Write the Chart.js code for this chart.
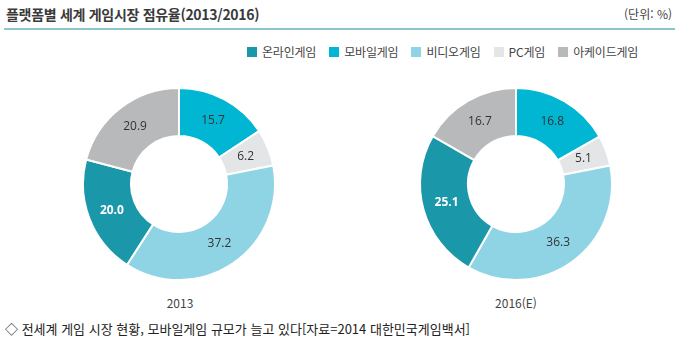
<!DOCTYPE html>
<html lang="ko">
<head>
<meta charset="utf-8">
<script src="https://cdn.jsdelivr.net/npm/chart.js@4/dist/chart.umd.min.js"></script>
<style>
  html, body { margin: 0; padding: 0; background: #fff; }
  body { width: 680px; height: 343px; position: relative; overflow: hidden;
         font-family: "Noto Sans CJK KR", "Noto Sans", sans-serif; color: #333; }
  #title { position: absolute; left: 6px; top: 4px; font-size: 14px; font-weight: bold; color: #3a3a3a; letter-spacing: -0.3px; }
  #unit { position: absolute; right: 8px; top: 5px; font-size: 12px; color: #444; }
  #rule { position: absolute; left: 4px; right: 5px; top: 28px; height: 1.5px; background: #8cc5cf; }
  #legend { position: absolute; left: 247px; top: 43px; display: flex; font-size: 12px; color: #444; white-space: nowrap; letter-spacing: -0.2px; }
  #legend .item { display: flex; align-items: center; margin-right: 13px; }
  #legend .sw { width: 10px; height: 10px; margin-right: 5px; }
  .chartbox { position: absolute; top: 84px; width: 200px; height: 200px; }
  .cap { position: absolute; top: 294px; font-size: 12px; color: #444; transform: translateX(-50%); }
  #note { position: absolute; left: 5px; top: 319px; font-size: 13px; color: #222; }
</style>
</head>
<body>
<div id="title">플랫폼별 세계 게임시장 점유율(2013/2016)</div>
<div id="unit">(단위: %)</div>
<div id="rule"></div>
<div id="legend"></div>
<div class="chartbox" style="left:79px"><canvas id="c2013"></canvas></div>
<div class="chartbox" style="left:416px"><canvas id="c2016"></canvas></div>
<div class="cap" id="cap0" style="left:180px"></div>
<div class="cap" id="cap1" style="left:516px"></div>
<div id="note">◇ 전세계 게임 시장 현황, 모바일게임 규모가 늘고 있다[자료=2014 대한민국게임백서]</div>

<script>
// Platforms, in legend order
const platforms = ['온라인게임', '모바일게임', '비디오게임', 'PC게임', '아케이드게임'];
const platformColors = ['#1a97a8', '#00b6d3', '#8fd4e4', '#e4e5e6', '#b8b9bb'];

// Slice order drawn clockwise from 12 o'clock
const sliceOrder = [1, 3, 2, 0, 4];

const years = ['2013', '2016(E)'];
const share2013 = [20.0, 15.7, 37.2, 6.2, 20.9];
const share2016 = [25.1, 16.8, 36.3, 5.1, 16.7];

// legend
const legend = document.getElementById('legend');
platforms.forEach((p, i) => {
  const it = document.createElement('div');
  it.className = 'item';
  it.innerHTML = '<span class="sw" style="background:' + platformColors[i] + '"></span>' + p;
  legend.appendChild(it);
});
document.getElementById('cap0').textContent = years[0];
document.getElementById('cap1').textContent = years[1];

// value labels at each arc's centre point
const sliceLabels = {
  id: 'sliceLabels',
  afterDatasetsDraw(chart) {
    const ctx = chart.ctx;
    const meta = chart.getDatasetMeta(0);
    const ds = chart.data.datasets[0];
    ctx.save();
    ctx.textAlign = 'center';
    ctx.textBaseline = 'middle';
    meta.data.forEach((arc, i) => {
      const pt = arc.getCenterPoint();
      const isOnline = sliceOrder[i] === 0;
      ctx.font = (isOnline ? 'bold ' : '') + '12px "Open Sans", "Noto Sans", sans-serif';
      ctx.fillStyle = isOnline ? '#ffffff' : '#333333';
      ctx.fillText(ds.data[i].toFixed(1), pt.x, pt.y);
    });
    ctx.restore();
  }
};

function makeDonut(id, values) {
  new Chart(document.getElementById(id), {
    type: 'doughnut',
    data: {
      labels: sliceOrder.map(k => platforms[k]),
      datasets: [{
        data: sliceOrder.map(k => values[k]),
        backgroundColor: sliceOrder.map(k => platformColors[k]),
        borderColor: '#ffffff',
        borderWidth: 2
      }]
    },
    options: {
      responsive: true,
      maintainAspectRatio: false,
      animation: false,
      cutout: '50%',
      layout: { padding: 3 },
      plugins: { legend: { display: false }, tooltip: { enabled: false } }
    },
    plugins: [sliceLabels]
  });
}

makeDonut('c2013', share2013);
makeDonut('c2016', share2016);
</script>
</body>
</html>
